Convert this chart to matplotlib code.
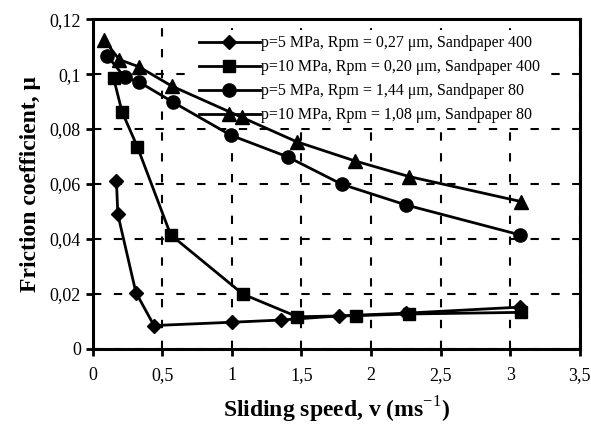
import matplotlib.pyplot as plt
from matplotlib.ticker import FuncFormatter

plt.rcParams['font.family'] = ['Liberation Serif', 'DejaVu Serif']
plt.rcParams['mathtext.fontset'] = 'custom'
plt.rcParams['mathtext.rm'] = 'Liberation Serif'
plt.rcParams['mathtext.bf'] = 'Liberation Serif:bold'

# p=5 MPa, Rpm = 0,27 um, Sandpaper 400
v1 = [0.17, 0.18, 0.31, 0.44, 1.0, 1.35, 1.77, 2.25, 3.07]
mu1 = [0.061, 0.049, 0.0205, 0.0085, 0.0097, 0.0105, 0.012, 0.013, 0.0152]
# p=10 MPa, Rpm = 0,20 um, Sandpaper 400
v2 = [0.15, 0.21, 0.32, 0.56, 1.08, 1.47, 1.89, 2.27, 3.08]
mu2 = [0.0985, 0.0863, 0.0736, 0.0415, 0.0199, 0.0117, 0.0121, 0.0127, 0.0133]
# p=5 MPa, Rpm = 1,44 um, Sandpaper 80
v3 = [0.105, 0.23, 0.33, 0.58, 0.99, 1.40, 1.79, 2.25, 3.07]
mu3 = [0.1066, 0.0988, 0.0972, 0.0897, 0.0778, 0.0699, 0.0599, 0.0524, 0.0415]
# p=10 MPa, Rpm = 1,08 um, Sandpaper 80
v4 = [0.08, 0.19, 0.33, 0.57, 1.07, 1.465, 1.885, 2.275, 3.08]
mu4 = [0.1126, 0.1053, 0.1027, 0.0956, 0.0843, 0.0754, 0.0684, 0.0627, 0.0536]

labels = ['p=5 MPa, Rpm = 0,27 \u03bcm, Sandpaper 400',
          'p=10 MPa, Rpm = 0,20 \u03bcm, Sandpaper 400',
          'p=5 MPa, Rpm = 1,44 \u03bcm, Sandpaper 80',
          'p=10 MPa, Rpm = 1,08 \u03bcm, Sandpaper 80']

fig = plt.figure(figsize=(5.91, 4.26), dpi=100)
ax = fig.add_axes([0.157, 0.181, 0.824, 0.774])

ax.plot(v1, mu1, '-D', color='k', lw=2, ms=7, label=labels[0], zorder=3)
ax.plot(v2, mu2, '-s', color='k', lw=2, ms=9, label=labels[1], zorder=3)
ax.plot(v3, mu3, '-o', color='k', lw=2, ms=9.5, label=labels[2], zorder=3)
ax.plot(v4, mu4, '-^', color='k', lw=2, ms=9.5, label=labels[3], zorder=3)

ax.set_xlim(0, 3.5)
ax.set_ylim(0, 0.12)
ax.set_xticks([0, 0.5, 1, 1.5, 2, 2.5, 3, 3.5])
ax.set_yticks([0, 0.02, 0.04, 0.06, 0.08, 0.1, 0.12])

def comma(x, pos):
    s = ('%.2f' % x).rstrip('0').rstrip('.')
    return s.replace('.', ',')

ax.xaxis.set_major_formatter(FuncFormatter(comma))
ax.yaxis.set_major_formatter(FuncFormatter(comma))
ax.tick_params(labelsize=13, width=2, length=5, direction='out')
ax.tick_params(axis='x', pad=8)

ax.grid(True, color='k', ls=(0, (4, 6)), lw=1.5, zorder=1)
ax.set_axisbelow(True)
for s in ax.spines.values():
    s.set_linewidth(2.2)
    s.set_zorder(4)

ax.set_xlabel('Sliding speed, v (ms$^{-1}$)', fontsize=17, fontweight='bold', labelpad=8)
ax.set_ylabel('Friction coefficient, \u03bc', fontsize=17, fontweight='bold', labelpad=6)

leg = ax.legend(loc='upper right', bbox_to_anchor=(0.945, 0.99), frameon=True, fontsize=11.5,
                handlelength=3.8, handletextpad=0.1, labelspacing=0.5, borderpad=0.3)
leg.get_frame().set_facecolor('white')
leg.get_frame().set_edgecolor('none')
leg.get_frame().set_alpha(1)
leg.set_zorder(2)

fig.savefig('out.png', dpi=100)
